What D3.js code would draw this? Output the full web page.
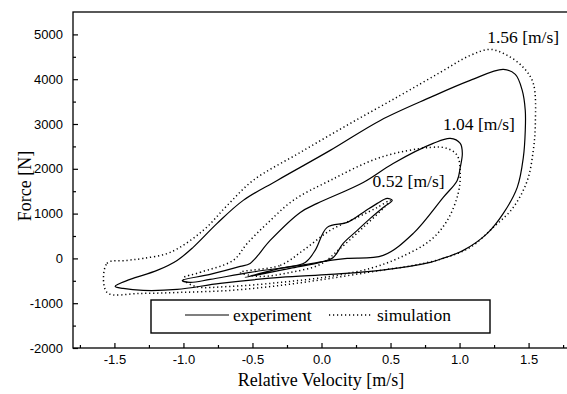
<!DOCTYPE html>
<html><head><meta charset="utf-8">
<script src="https://cdn.jsdelivr.net/npm/d3@7"></script>
<style>body{margin:0;background:#fff}</style>
</head><body>
<svg id="c" width="567" height="394"></svg>
<script>
// ---- data (velocity [m/s], force [N]) ----
const xTicks = [-1.5, -1.0, -0.5, 0.0, 0.5, 1.0, 1.5];
const xMinor = [-1.75, -1.25, -0.75, -0.25, 0.25, 0.75, 1.25, 1.75];
const yTicks = [-2000, -1000, 0, 1000, 2000, 3000, 4000, 5000];
const yMinor = [-1500, -500, 500, 1500, 2500, 3500, 4500];

const exp156 = [[-1.495,-625],[-1.386,-469],[-1.191,-268],[-1.046,-45],[-0.930,246],[-0.756,781],[-0.567,1295],[-0.321,1741],[0.063,2411],[0.426,3080],[0.788,3594],[1.077,3973],[1.317,4218],[1.404,4107],[1.454,3750],[1.476,3303],[1.476,2857],[1.462,2254],[1.418,1585],[1.317,1004],[1.201,558],[1.027,179],[0.860,-20],[0.788,-89],[0.426,-268],[0.063,-357],[-0.299,-424],[-0.734,-558],[-1.046,-692],[-1.292,-714],[-1.437,-670]];
const exp104 = [[-1.009,-491],[-0.807,-357],[-0.589,-179],[-0.517,-112],[-0.372,402],[-0.154,1027],[-0.031,1228],[0.302,1696],[0.519,2120],[0.809,2567],[0.933,2678],[1.005,2567],[1.020,2344],[1.005,2031],[0.983,1741],[0.882,1362],[0.665,558],[0.447,67],[0.186,0],[0.063,-45],[-0.154,-156],[-0.517,-312],[-0.807,-469],[-0.952,-536]];
const exp052 = [[-0.553,-424],[-0.299,-223],[-0.118,-89],[-0.046,179],[0.041,692],[0.186,804],[0.302,1027],[0.404,1228],[0.476,1339],[0.512,1295],[0.447,1138],[0.353,893],[0.259,625],[0.157,335],[0.085,22],[-0.009,-89],[-0.227,-223],[-0.444,-357]];

const sim156 = [[-1.554,-759],[-1.554,-112],[-1.408,-45],[-1.292,0],[-1.096,134],[-0.857,625],[-0.683,1183],[-0.495,1741],[-0.154,2366],[0.208,3013],[0.570,3638],[0.860,4152],[1.077,4531],[1.222,4665],[1.346,4531],[1.462,4263],[1.534,3906],[1.549,3013],[1.534,2411],[1.491,1741],[1.389,1138],[1.244,692],[1.077,246],[0.882,0],[0.665,-156],[0.426,-268],[0.063,-446],[-0.299,-603],[-0.662,-714],[-1.024,-759],[-1.314,-781]];
const sim104 = [[-1.002,-446],[-0.879,-312],[-0.640,-45],[-0.538,335],[-0.393,781],[-0.205,1295],[0.063,1741],[0.426,2254],[0.788,2478],[0.911,2455],[0.983,2299],[1.005,1897],[0.990,1451],[0.911,848],[0.788,402],[0.570,22],[0.353,-223],[0.063,-402],[-0.299,-536],[-0.662,-625],[-0.915,-625]];
const sim052 = [[-0.589,-312],[-0.299,-156],[-0.133,179],[0.063,625],[0.259,915],[0.404,1138],[0.497,1295],[0.461,1160],[0.317,736],[0.136,223],[-0.009,-134],[-0.227,-312],[-0.444,-402]];

const curveLabels = [
  {text: "1.56 [m/s]", v: 1.20, f: 4800},
  {text: "1.04 [m/s]", v: 0.88, f: 2860},
  {text: "0.52 [m/s]", v: 0.37, f: 1590}
];
const legendItems = ["experiment", "simulation"];

// ---- drawing ----
const svg = d3.select("#c");
const x = d3.scaleLinear().domain([-1.8, 1.8]).range([73, 570]);
const y = d3.scaleLinear().domain([-2000, 5500]).range([348, 12]);
const serif = "'Liberation Serif','Times New Roman',serif";
const sans = "'Liberation Sans',Arial,sans-serif";

const line = d3.line().x(d => x(d[0])).y(d => y(d[1])).curve(d3.curveCatmullRomClosed.alpha(0.5));

const plot = svg.append("g");
[exp156, exp104, exp052].forEach(s => {
  plot.append("path").attr("d", line(s)).attr("fill", "none")
    .attr("stroke", "#000").attr("stroke-width", 1.2);
});
[sim156, sim104, sim052].forEach(s => {
  plot.append("path").attr("d", line(s)).attr("fill", "none")
    .attr("stroke", "#000").attr("stroke-width", 1.5)
    .attr("stroke-dasharray", "1.2,2.8");
});

// axes
const gx = svg.append("g").attr("transform", `translate(0,${y(-2000)})`)
  .call(d3.axisBottom(x).tickValues(xTicks).tickSize(-5).tickPadding(7).tickFormat(d => d.toFixed(1)));
const gxm = svg.append("g").attr("transform", `translate(0,${y(-2000)})`)
  .call(d3.axisBottom(x).tickValues(xMinor).tickSize(-3).tickFormat(""));
const gy = svg.append("g").attr("transform", `translate(${x(-1.8)},0)`)
  .call(d3.axisLeft(y).tickValues(yTicks).tickSize(-5).tickPadding(10).tickFormat(d => String(d)));
const gym = svg.append("g").attr("transform", `translate(${x(-1.8)},0)`)
  .call(d3.axisLeft(y).tickValues(yMinor).tickSize(-3).tickFormat(""));
[gx, gxm, gy, gym].forEach(g => {
  g.select(".domain").remove();
  g.selectAll(".tick line").attr("stroke", "#000").attr("stroke-width", 1.2);
  g.selectAll("text").attr("font-family", sans).attr("font-size", 13).attr("fill", "#000");
});

// frame
svg.append("rect").attr("x", x(-1.8)).attr("y", y(5500))
  .attr("width", x(1.8) - x(-1.8)).attr("height", y(-2000) - y(5500))
  .attr("fill", "none").attr("stroke", "#000").attr("stroke-width", 1.3);

// axis titles
svg.append("text").attr("x", 321).attr("y", 386).attr("text-anchor", "middle")
  .attr("font-family", serif).attr("font-size", 18).text("Relative Velocity [m/s]");
svg.append("text").attr("transform", "translate(31,186) rotate(-90)").attr("text-anchor", "middle")
  .attr("font-family", serif).attr("font-size", 18).text("Force [N]");

// curve labels
svg.selectAll(".cl").data(curveLabels).enter().append("text")
  .attr("x", d => x(d.v)).attr("y", d => y(d.f))
  .attr("font-family", serif).attr("font-size", 17.5).text(d => d.text);

// legend
const lg = svg.append("g");
lg.append("rect").attr("x", 151).attr("y", 300).attr("width", 339).attr("height", 33)
  .attr("fill", "#fff").attr("stroke", "#000").attr("stroke-width", 1.4);
lg.append("line").attr("x1", 185).attr("x2", 229).attr("y1", 315).attr("y2", 315)
  .attr("stroke", "#000").attr("stroke-width", 1.2);
lg.append("text").attr("x", 233).attr("y", 321).attr("font-family", serif).attr("font-size", 17.5).text(legendItems[0]);
lg.append("line").attr("x1", 329).attr("x2", 373).attr("y1", 315).attr("y2", 315)
  .attr("stroke", "#000").attr("stroke-width", 1.5).attr("stroke-dasharray", "1.2,2.8");
lg.append("text").attr("x", 377).attr("y", 321).attr("font-family", serif).attr("font-size", 17.5).text(legendItems[1]);
</script>
</body></html>
